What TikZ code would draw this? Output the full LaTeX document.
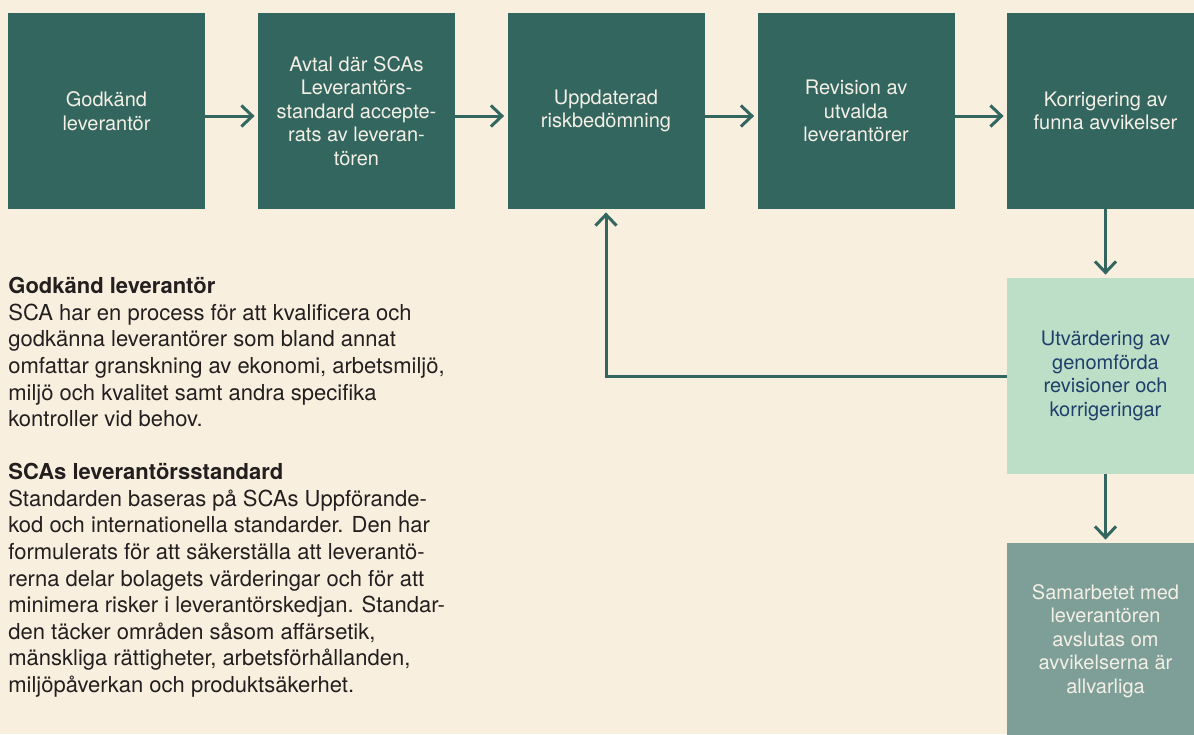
\documentclass[tikz,border=0pt]{standalone}
\usepackage{fontspec}
\setmainfont{TeX Gyre Heros}
\usetikzlibrary{arrows.meta}

\definecolor{bgcream}{HTML}{F8EFDF}
\definecolor{scadark}{HTML}{33665F}
\definecolor{scalight}{HTML}{BDDFC7}
\definecolor{scagrey}{HTML}{7E9E98}
\definecolor{scanavy}{HTML}{1E3F6B}
\definecolor{boxtext}{HTML}{F4F0E6}
\definecolor{bodytext}{HTML}{231F1F}

\tikzset{
  stepbox/.style={minimum width=98.5pt, minimum height=98pt, inner sep=0pt,
    align=center, font=\fontsize{10}{11.75}\selectfont},
  darkbox/.style={stepbox, fill=scadark, text=boxtext},
  flow/.style={-{Straight Barb[length=5.5pt,width=10.5pt]}, line width=1.5pt, draw=scadark},
  bodybox/.style={anchor=north west, inner sep=0pt, align=left, text=bodytext,
    font=\fontsize{11}{13.3}\selectfont}
}

\begin{document}
\begin{tikzpicture}[x=0.5pt, y=-0.5pt]
    % Bakgrund
    \fill[bgcream] (0,0) rectangle (1194,734);
    \useasboundingbox (0,0) rectangle (1194,734);

    % Processteg (övre raden)
    \node[darkbox] (godk) at (106.5,111) {Godkänd\\leverantör};
    \node[darkbox] (avtal) at (356.5,111) {Avtal där SCAs\\Leverantörs-\\standard accepte-\\rats av leveran-\\tören};
    \node[darkbox] (upd) at (606,111) {Uppdaterad\\riskbedömning};
    \node[darkbox] (rev) at (856,111) {Revision av\\utvalda\\leverantörer};
    \node[darkbox] (korr) at (1105.5,111) {Korrigering av\\funna avvikelser};

    % Uppföljning (högra kolumnen)
    \node[stepbox, fill=scalight, text=scanavy] (utv) at (1105.5,376) {Utvärdering av\\genomförda\\revisioner och\\korrigeringar};
    \node[stepbox, fill=scagrey, text=boxtext] (avsl) at (1105.5,641) {Samarbetet med\\leverantören\\avslutas om\\avvikelserna är\\allvarliga};

    % Pilar
    \draw[flow, shorten >=1.5pt] ([yshift=-2.5pt]godk.east) -- ([yshift=-2.5pt]avtal.west);
    \draw[flow, shorten >=1.5pt] ([yshift=-2.5pt]avtal.east) -- ([yshift=-2.5pt]upd.west);
    \draw[flow, shorten >=1.5pt] ([yshift=-2.5pt]upd.east) -- ([yshift=-2.5pt]rev.west);
    \draw[flow, shorten >=1.5pt] ([yshift=-2.5pt]rev.east) -- ([yshift=-2.5pt]korr.west);
    \draw[flow, shorten >=1.5pt] (korr) -- (utv);
    \draw[flow, shorten >=1.5pt] (utv) -- (avsl);
    \draw[flow, shorten >=1.5pt] (utv.west) -| (upd.south);

    % Förklarande text
    \node[bodybox] (txtgodk) at (8,277) {\textbf{Godkänd leverantör}\\
      SCA har en process för att kvalificera och\\
      godkänna leverantörer som bland annat\\
      omfattar granskning av ekonomi, arbetsmiljö,\\
      miljö och kvalitet samt andra specifika\\
      kontroller vid behov.};
    \node[bodybox] (txtstd) at (8,463) {\textbf{SCAs leverantörsstandard}\\
      Standarden baseras på SCAs Uppförande-\\
      kod och internationella standarder. Den har\\
      formulerats för att säkerställa att leverantö-\\
      rerna delar bolagets värderingar och för att\\
      minimera risker i leverantörskedjan. Standar-\\
      den täcker områden såsom affärsetik,\\
      mänskliga rättigheter, arbetsförhållanden,\\
      miljöpåverkan och produktsäkerhet.};
\end{tikzpicture}
\end{document}
